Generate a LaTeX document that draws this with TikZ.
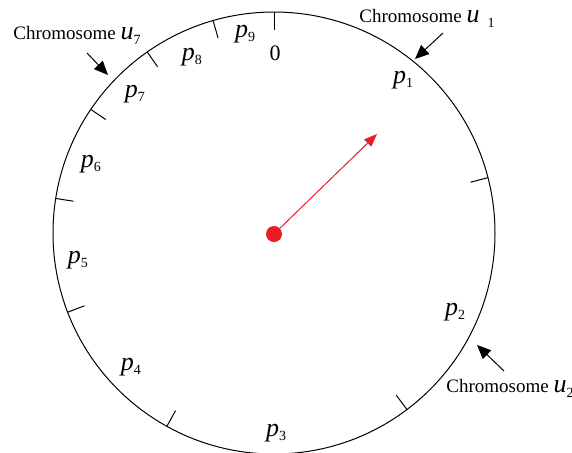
\documentclass[tikz,border=0pt]{standalone}
\usepackage{fontspec}
\setmainfont{Liberation Serif}
\usepackage{xcolor}
\usetikzlibrary{arrows.meta}

\definecolor{wheelred}{RGB}{237,28,36}
\newcommand{\plab}[1]{{\fontsize{13}{13}\selectfont\itshape p}\raisebox{-2pt}{\fontsize{7}{7}\selectfont #1}}
\newcommand{\ulab}[2]{{\fontsize{13}{13}\selectfont\itshape u}\hspace{#2}\raisebox{-2.5pt}{\fontsize{7}{7}\selectfont #1}}

\begin{document}
\begin{tikzpicture}[
  x=0.5pt, y=0.5pt,
  rim/.style={line width=0.5pt},
  notch/.style={line width=0.5pt},
  seglabel/.style={inner sep=0pt, anchor=center},
  chromo/.style={inner sep=0pt, font=\fontsize{9.5}{11}\selectfont},
  pointer/.style={-{Triangle[length=7pt,width=6pt]}, line width=0.5pt},
  hub/.style={circle, fill=wheelred, minimum size=8pt, inner sep=0pt},
  spinarr/.style={-{Triangle[length=6.5pt,width=5pt]}, wheelred, line width=0.5pt}
]
\useasboundingbox (-274,-219) rectangle (298,233);

%% ── WHEEL: rim and segment borders ───────────────────────────────────
\coordinate (c) at (0,0);
\draw[rim] (c) circle[radius=221];
\foreach \a in {90,106,125,146,171,201,241,307,14.5}
  \draw[notch] (\a:221) -- (\a:203);

%% ── SEGMENT LABELS ───────────────────────────────────────────────────
\node[seglabel] (zero) at (1,180) {\fontsize{11}{11}\selectfont 0};
\node[seglabel] (p1) at (129,153)   {\plab{1}};
\node[seglabel] (p2) at (181,-79)   {\plab{2}};
\node[seglabel] (p3) at (2,-200)    {\plab{3}};
\node[seglabel] (p4) at (-143,-134) {\plab{4}};
\node[seglabel] (p5) at (-196,-27)  {\plab{5}};
\node[seglabel] (p6) at (-183,69)   {\plab{6}};
\node[seglabel] (p7) at (-139,139)  {\plab{7}};
\node[seglabel] (p8) at (-82,176)   {\plab{8}};
\node[seglabel] (p9) at (-29,199)   {\plab{9}};

%% ── CHROMOSOME POINTERS ──────────────────────────────────────────────
\node[chromo] (cu7) at (-197,198) {Chromosome \ulab{7}{0pt}};
\node[chromo] (cu1) at (153,215)  {Chromosome \ulab{1}{4pt}};
\node[chromo] (cu2) at (236,-155) {Chromosome \ulab{2}{0pt}};
\coordinate (t7) at (-187,180);  \coordinate (h7) at (-166,158);
\coordinate (t1) at (169,200);   \coordinate (h1) at (141,174);
\coordinate (t2) at (230,-138);  \coordinate (h2) at (203,-112);
\draw[pointer] (t7) -- (h7);
\draw[pointer] (t1) -- (h1);
\draw[pointer] (t2) -- (h2);

%% ── SPINNER ──────────────────────────────────────────────────────────
\node[hub] (hub) at (0,-1) {};
\coordinate (spin) at (103,99);
\draw[spinarr] (hub) -- (spin);

\end{tikzpicture}
\end{document}
